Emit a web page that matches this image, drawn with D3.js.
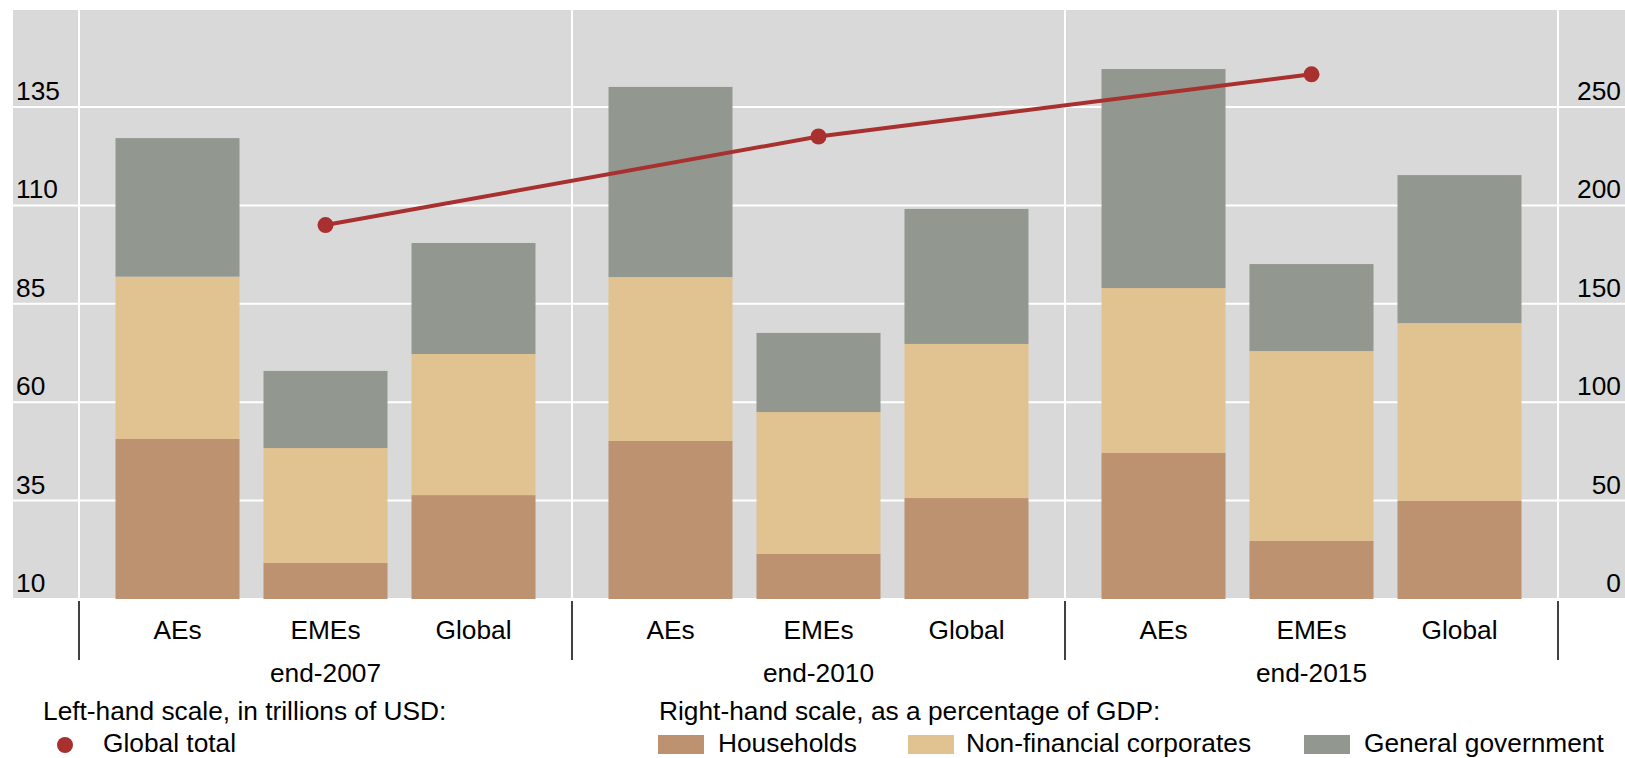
<!DOCTYPE html>
<html>
<head>
<meta charset="utf-8">
<script src="https://cdn.jsdelivr.net/npm/d3@7"></script>
<style>
  html, body { margin: 0; padding: 0; background: #ffffff; }
  svg { display: block; }
  text { font-family: "Liberation Sans", Arial, Helvetica, sans-serif; fill: #000; }
</style>
</head>
<body>
<svg id="chart" width="1625" height="758"></svg>
<script>
// ---------- data ----------
const periods = ["end-2007", "end-2010", "end-2015"];
const regions = ["AEs", "EMEs", "Global"];
const seriesKeys = ["Households", "Non-financial corporates", "General government"];
// right-hand scale, % of GDP, order: AEs, EMEs, Global for each period
const households = [81.3, 18.3, 52.8,   80.3, 22.9, 51.3,   74.2, 29.5, 49.8];
const corporates = [82.5, 58.4, 71.7,   83.3, 72.1, 78.3,   83.8, 96.5, 90.4];
const government = [70.4, 39.2, 56.4,   96.6, 40.2, 68.6,  111.3, 44.2, 75.2];
// left-hand scale, trillions of USD
const globalTotal = [105.0, 127.5, 143.3];
const leftTicks = [10, 35, 60, 85, 110, 135];
const rightTicks = [0, 50, 100, 150, 200, 250];

// ---------- layout ----------
const W = 1625, H = 758;
const plotLeft = 13, plotRight = 1625, plotTop = 10, plotBottom = 599;
const innerLeft = 79, innerRight = 1558;
const colors = { "Households": "#bd9270", "Non-financial corporates": "#e1c291", "General government": "#929890" };
const red = "#a8302e";
const fs = 26.3;

const svg = d3.select("#chart");

const yLeft = d3.scaleLinear().domain([10, 135]).range([plotBottom, 107]);
const yRight = d3.scaleLinear().domain([0, 250]).range([plotBottom, 107]);
const xGroup = d3.scaleBand().domain(periods).range([innerLeft, innerRight]).padding(0);
const xInner = d3.scaleBand().domain(regions).range([0, xGroup.bandwidth()])
  .paddingInner(0.162).paddingOuter(0.2466);

// rows for stacking
const rows = [];
periods.forEach((p, i) => regions.forEach((r, j) => {
  const k = i * 3 + j;
  rows.push({ period: p, region: r,
    "Households": households[k],
    "Non-financial corporates": corporates[k],
    "General government": government[k] });
}));
const stacked = d3.stack().keys(seriesKeys)(rows);

// background
svg.append("rect").attr("x", plotLeft).attr("y", plotTop)
  .attr("width", plotRight - plotLeft).attr("height", plotBottom - plotTop)
  .attr("fill", "#d9d9d9");

// horizontal gridlines
svg.append("g").selectAll("line").data(leftTicks).join("line")
  .attr("x1", plotLeft).attr("x2", plotRight)
  .attr("y1", d => yLeft(d)).attr("y2", d => yLeft(d))
  .attr("stroke", "#ffffff").attr("stroke-width", 2);

// vertical separators
const seps = [innerLeft, ...periods.map(p => xGroup(p) + xGroup.bandwidth())];
svg.append("g").selectAll("line").data(seps).join("line")
  .attr("x1", d => d).attr("x2", d => d)
  .attr("y1", plotTop).attr("y2", plotBottom)
  .attr("stroke", "#ffffff").attr("stroke-width", 2);

// bars
svg.append("g").selectAll("g").data(stacked).join("g")
  .attr("fill", d => colors[d.key])
  .selectAll("rect").data(d => d).join("rect")
  .attr("x", d => xGroup(d.data.period) + xInner(d.data.region))
  .attr("width", xInner.bandwidth())
  .attr("y", d => yRight(d[1]))
  .attr("height", d => yRight(d[0]) - yRight(d[1]));

// line + dots (Global total, left scale), positioned at EMEs bar centres
const linePts = periods.map((p, i) => [xGroup(p) + xInner("EMEs") + xInner.bandwidth() / 2, yLeft(globalTotal[i])]);
svg.append("path").datum(linePts)
  .attr("d", d3.line())
  .attr("fill", "none").attr("stroke", red).attr("stroke-width", 4);
svg.append("g").selectAll("circle").data(linePts).join("circle")
  .attr("cx", d => d[0]).attr("cy", d => d[1]).attr("r", 8).attr("fill", red);

// left axis labels
const gL = svg.append("g").attr("transform", `translate(${plotLeft + 3},0)`)
  .call(d3.axisRight(yLeft).tickValues(leftTicks).tickSize(0).tickPadding(0));
gL.select(".domain").remove();
gL.selectAll("text").attr("y", -7.5).attr("dy", 0).attr("x", 0)
  .attr("text-anchor", "start").style("font-size", fs + "px").style("font-family", null);

// right axis labels
const gR = svg.append("g").attr("transform", `translate(${W - 4},0)`)
  .call(d3.axisLeft(yRight).tickValues(rightTicks).tickSize(0).tickPadding(0));
gR.select(".domain").remove();
gR.selectAll("text").attr("y", -7.5).attr("dy", 0).attr("x", 0)
  .attr("text-anchor", "end").style("font-size", fs + "px").style("font-family", null);

// category tick marks under the axis
svg.append("g").selectAll("line").data(seps).join("line")
  .attr("x1", d => d).attr("x2", d => d)
  .attr("y1", 601).attr("y2", 660)
  .attr("stroke", "#000").attr("stroke-width", 1.5);

// region labels
svg.append("g").selectAll("text").data(rows).join("text")
  .attr("x", d => xGroup(d.period) + xInner(d.region) + xInner.bandwidth() / 2)
  .attr("y", 639).attr("text-anchor", "middle").style("font-size", fs + "px")
  .text(d => d.region);

// period labels
svg.append("g").selectAll("text").data(periods).join("text")
  .attr("x", d => xGroup(d) + xGroup.bandwidth() / 2)
  .attr("y", 682).attr("text-anchor", "middle").style("font-size", fs + "px")
  .text(d => d);

// legend
const lg = svg.append("g");
lg.append("text").attr("x", 43).attr("y", 720).style("font-size", fs + "px")
  .text("Left-hand scale, in trillions of USD:");
lg.append("circle").attr("cx", 65).attr("cy", 745).attr("r", 8).attr("fill", red);
lg.append("text").attr("x", 103).attr("y", 752).style("font-size", fs + "px").text("Global total");

lg.append("text").attr("x", 659).attr("y", 720).style("font-size", fs + "px")
  .text("Right-hand scale, as a percentage of GDP:");
const legItems = [
  { key: "Households", sx: 658, tx: 718 },
  { key: "Non-financial corporates", sx: 908, tx: 966 },
  { key: "General government", sx: 1304, tx: 1364 }
];
const li = lg.selectAll("g.item").data(legItems).join("g").attr("class", "item");
li.append("rect").attr("x", d => d.sx).attr("y", 735).attr("width", 46).attr("height", 19)
  .attr("fill", d => colors[d.key]);
li.append("text").attr("x", d => d.tx).attr("y", 752).style("font-size", fs + "px").text(d => d.key);
</script>
</body>
</html>
